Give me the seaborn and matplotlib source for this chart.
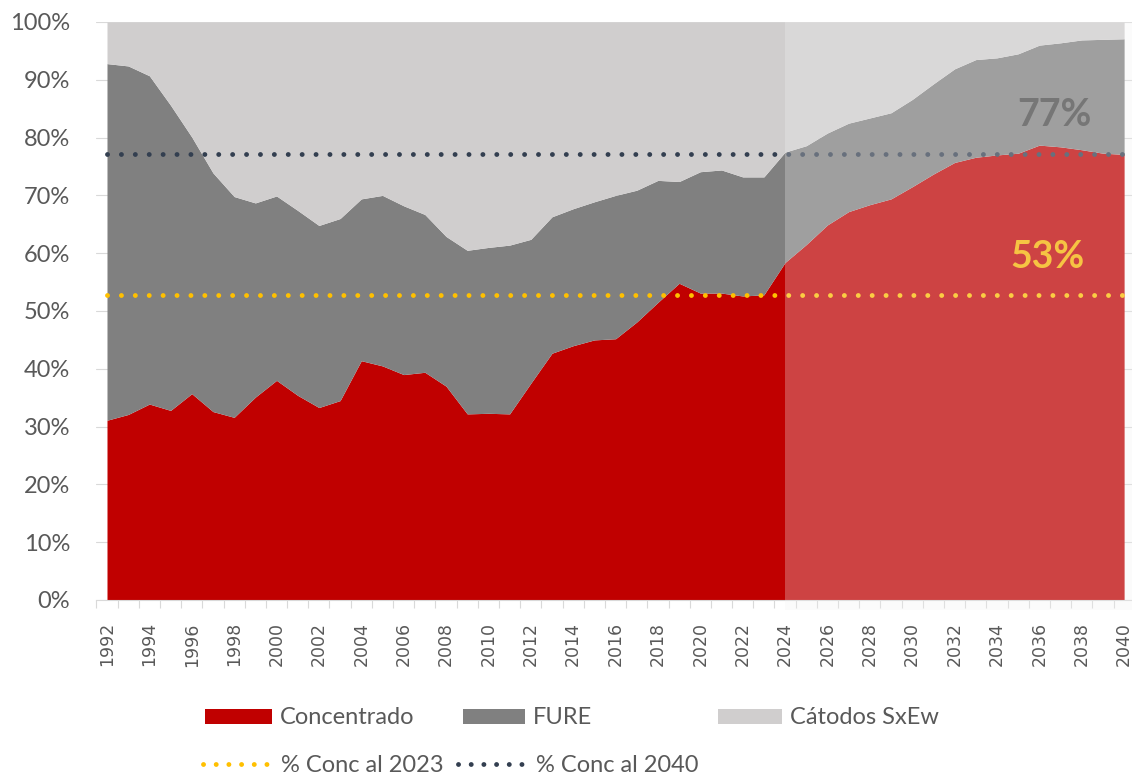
import numpy as np
import matplotlib
matplotlib.use("Agg")
import matplotlib.pyplot as plt
import seaborn as sns
from matplotlib.patches import Patch, Rectangle
from matplotlib.lines import Line2D
from matplotlib.ticker import FuncFormatter

# ---------------- data (percent of total) ----------------
years = list(range(1992, 2041))
concentrado = [31.1, 32.1, 33.9, 32.8, 35.7, 32.6, 31.6, 35.1, 38.0, 35.4,
               33.3, 34.5, 41.4, 40.5, 39.0, 39.4, 37.0, 32.2, 32.3, 32.2,
               37.5, 42.7, 44.0, 45.0, 45.2, 48.1, 51.5, 54.8, 53.1, 53.1,
               52.6, 52.8, 58.4, 61.5, 64.9, 67.2, 68.4, 69.4, 71.5, 73.7,
               75.7, 76.6, 77.0, 77.3, 78.7, 78.4, 77.9, 77.3, 77.1]
fure = [61.7, 60.3, 56.8, 52.8, 44.4, 41.3, 38.2, 33.6, 31.9, 32.0,
        31.5, 31.5, 28.0, 29.5, 29.2, 27.3, 25.9, 28.3, 28.7, 29.2,
        24.9, 23.6, 23.7, 23.9, 24.8, 22.8, 21.1, 17.6, 21.0, 21.3,
        20.6, 20.4, 19.1, 17.1, 15.9, 15.3, 15.0, 14.9, 15.1, 15.6,
        16.2, 16.9, 16.8, 17.2, 17.3, 18.0, 19.0, 19.7, 20.0]
catodos = [7.2, 7.6, 9.3, 14.4, 19.9, 26.1, 30.2, 31.3, 30.1, 32.6,
           35.2, 34.0, 30.6, 30.0, 31.8, 33.3, 37.1, 39.5, 39.0, 38.6,
           37.6, 33.7, 32.3, 31.1, 30.0, 29.1, 27.4, 27.6, 25.9, 25.6,
           26.8, 26.8, 22.5, 21.4, 19.2, 17.5, 16.6, 15.7, 13.4, 10.7,
           8.1, 6.5, 6.2, 5.5, 4.0, 3.6, 3.1, 3.0, 2.9]
series_names = ["Concentrado", "FURE", "Cátodos SxEw"]
ref_names = ["% Conc al 2023", "% Conc al 2040"]
ref_values = [52.8, 77.2]
ref_labels = ["53%", "77%"]
projection_start = 2024
ytick_values = list(range(0, 101, 10))
xtick_years = list(range(1992, 2041, 2))

# ---------------- style ----------------
sns.set_theme(style="white")
plt.rcParams["font.family"] = ["Lato", "DejaVu Sans"]

C_RED = "#C00000"
C_GRAY = "#808080"
C_LIGHT = "#D0CECE"
C_GOLD = "#FFC000"
C_NAVY = "#333F50"
C_TEXT = "#595959"
C_GRID = "#D9D9D9"

W, H = 1132, 779
PX_PER_YEAR = 21.19
AX_LEFT = 96.4
fig = plt.figure(figsize=(W / 100, H / 100), dpi=100)
ax = fig.add_axes([AX_LEFT / W, 179 / H, 1 - AX_LEFT / W, 578 / H])

ax.stackplot(years, concentrado, fure, catodos,
             colors=[C_RED, C_GRAY, C_LIGHT],
             linewidth=0, zorder=1)

# reference dotted lines (drawn with seaborn)
dot_style = (0, (0.01, 2.85))
for val, col in zip(ref_values, [C_GOLD, C_NAVY]):
    sns.lineplot(x=[years[0], years[-1]], y=[val, val], ax=ax, color=col,
                 linewidth=3.5, linestyle=dot_style, dash_capstyle="round",
                 legend=False, zorder=2)

# axes styling
ax.set_yticks(ytick_values)
ax.yaxis.set_major_formatter(FuncFormatter(lambda v, p: f"{v:.0f}%"))
ax.grid(axis="y", color=C_GRID, linewidth=0.8, zorder=0)
ax.grid(axis="x", visible=False)
ax.set_axisbelow(True)
ax.tick_params(axis="y", length=0, pad=19, labelsize=17, labelcolor=C_TEXT)

x_right = 1991.5 + (W - AX_LEFT) / PX_PER_YEAR

ax.set_xticks(xtick_years)
ax.set_xticklabels([str(y) for y in xtick_years], rotation=90,
                   fontfamily="DejaVu Sans")
ax.set_xticks(np.arange(1991.5, x_right, 1), minor=True)
ax.tick_params(axis="x", which="major", length=0, pad=16, labelsize=12.5,
               labelcolor=C_TEXT)
ax.tick_params(axis="x", which="minor", length=6, width=0.8, color=C_GRID,
               direction="out", bottom=True)
for s in ["left", "right", "top"]:
    ax.spines[s].set_visible(False)
ax.spines["bottom"].set_color(C_GRID)
ax.spines["bottom"].set_linewidth(0.8)
ax.set_xlabel("")
ax.set_ylabel("")
ax.set_facecolor("white")

ax.set_xlim(1991.5, x_right)
ax.set_ylim(0, 100)

# projection overlay
ax.add_patch(Rectangle((projection_start, -1.7), x_right - projection_start, 101.7,
                       facecolor="#F2F2F2", alpha=0.28, edgecolor="none",
                       zorder=3, clip_on=False))

# value labels
ax.text(2036.7, 83.9, ref_labels[1], color="#767676", fontsize=27,
        fontweight="bold", ha="center", va="center", zorder=5)
ax.text(2036.4, 59.3, ref_labels[0], color="#F6C443", fontsize=27,
        fontweight="bold", ha="center", va="center", zorder=5)

ax.set_xlim(1991.5, x_right)
ax.set_ylim(0, 100)

# ---------------- legend (one entry per box, positioned like the reference) ----------------
fs = 17
fs_px = fs * 100 / 72
patch_handles = [Patch(facecolor=c, edgecolor="none") for c in [C_RED, C_GRAY, C_LIGHT]]
line_handles = [Line2D([0], [0], color=c, linewidth=3.5, linestyle=(0, (0.01, 2.6)),
                       dash_capstyle="round") for c in [C_GOLD, C_NAVY]]
entries = [
    (patch_handles[0], series_names[0], 205, 718, 67),
    (patch_handles[1], series_names[1], 463, 718, 62),
    (patch_handles[2], series_names[2], 718, 718, 64),
    (line_handles[0], ref_names[0], 203, 765, 70),
    (line_handles[1], ref_names[1], 458, 765, 70),
]
for h, lab, xpx, ypx, hl in entries:
    leg = fig.legend([h], [lab], loc="center left",
                     bbox_to_anchor=(xpx / W, 1 - ypx / H),
                     frameon=False, fontsize=fs, borderpad=0, borderaxespad=0,
                     handlelength=hl / fs_px, handletextpad=8 / fs_px,
                     handleheight=0.6)
    for t in leg.get_texts():
        t.set_color(C_TEXT)

fig.savefig("out.png", dpi=100, facecolor="white")
